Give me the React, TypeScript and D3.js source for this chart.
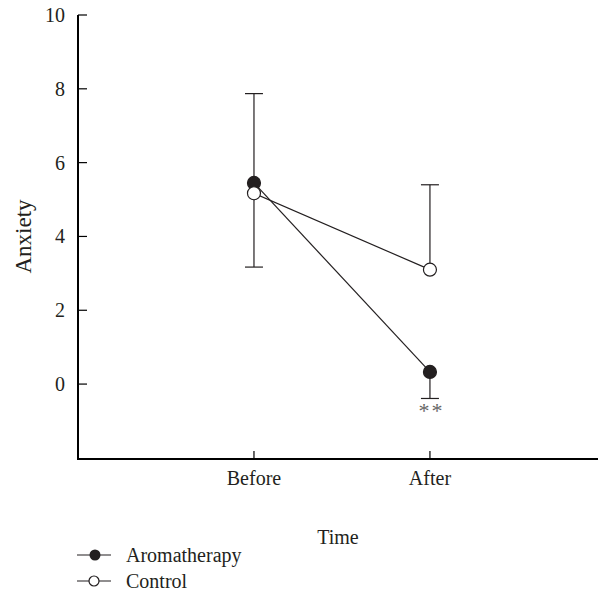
import React from "react";
import * as d3 from "d3";

const categories = ["Before", "After"];
const catPos = [1, 2];
const aromaMean = [5.45, 0.33];
const aromaErr = [2.42, -0.72];
const controlMean = [5.17, 3.1];
const controlErr = [-2.0, 2.3];
const yTicks = [0, 2, 4, 6, 8, 10];

const W = 607, H = 595;
const FONT = "'Liberation Serif', 'Times New Roman', serif";
const INK = "#231f20";

export default function App() {
  const x = d3.scaleLinear().domain([0, 2.955]).range([78, 598]);
  const y = d3.scaleLinear().domain([-2.03, 10]).range([459, 15]);
  const line = d3.line<[number, number]>().x(d => x(d[0])).y(d => y(d[1]));
  const aromaPts: [number, number][] = catPos.map((c, i) => [c, aromaMean[i]]);
  const ctrlPts: [number, number][] = catPos.map((c, i) => [c, controlMean[i]]);
  const r = 6.5;
  const cap = 9;

  const errBar = (c: number, m: number, e: number, key: string) => (
    <g key={key} stroke={INK} strokeWidth={1.2}>
      <line x1={x(c)} x2={x(c)} y1={y(m)} y2={y(m + e)} />
      <line x1={x(c) - cap} x2={x(c) + cap} y1={y(m + e)} y2={y(m + e)} />
    </g>
  );

  return (
    <svg width={W} height={H} style={{ position: "absolute", left: 0, top: 0 }} fontFamily={FONT}>
      <rect width={W} height={H} fill="#fff" />
      {catPos.map((c, i) => errBar(c, aromaMean[i], aromaErr[i], "a" + i))}
      {catPos.map((c, i) => errBar(c, controlMean[i], controlErr[i], "c" + i))}
      <path d={line(aromaPts) || ""} fill="none" stroke={INK} strokeWidth={1.2} />
      <path d={line(ctrlPts) || ""} fill="none" stroke={INK} strokeWidth={1.2} />
      {aromaPts.map((p, i) => (
        <circle key={"am" + i} cx={x(p[0])} cy={y(p[1])} r={r} fill={INK} stroke={INK} strokeWidth={1.2} />
      ))}
      {ctrlPts.map((p, i) => (
        <circle key={"cm" + i} cx={x(p[0])} cy={y(p[1])} r={r} fill="#fff" stroke={INK} strokeWidth={1.2} />
      ))}
      <text x={x(2) + 1.5} y={y(aromaMean[1] + aromaErr[1]) + 20} textAnchor="middle" fontSize={22} letterSpacing={2} fill="#666">**</text>
      <line x1={78} x2={78} y1={y(10)} y2={459} stroke="#000" strokeWidth={2} />
      <line x1={77} x2={598} y1={459} y2={459} stroke="#000" strokeWidth={2} />
      {yTicks.map(t => (
        <g key={"yt" + t}>
          <line x1={78} x2={87} y1={y(t)} y2={y(t)} stroke="#000" strokeWidth={1.2} />
          <text x={65} y={y(t)} dy="0.35em" textAnchor="end" fontSize={20} fill={INK}>{t}</text>
        </g>
      ))}
      {categories.map((c, i) => (
        <g key={"xt" + c}>
          <line x1={x(catPos[i])} x2={x(catPos[i])} y1={459} y2={451} stroke="#000" strokeWidth={1.2} />
          <text x={x(catPos[i])} y={485} textAnchor="middle" fontSize={20} fill={INK}>{c}</text>
        </g>
      ))}
      <text transform={`translate(31,${y(4)}) rotate(-90)`} textAnchor="middle" fontSize={23} fill={INK}>Anxiety</text>
      <text x={338} y={544} textAnchor="middle" fontSize={20} fill={INK}>Time</text>
      <g>
        <line x1={77} x2={111} y1={555} y2={555} stroke={INK} strokeWidth={1.2} />
        <circle cx={95} cy={555} r={5.5} fill={INK} />
        <text x={126} y={562} fontSize={20} fill={INK}>Aromatherapy</text>
        <line x1={77} x2={111} y1={581} y2={581} stroke={INK} strokeWidth={1.2} />
        <circle cx={94} cy={581} r={5} fill="#fff" stroke={INK} strokeWidth={1.2} />
        <text x={126} y={588} fontSize={20} fill={INK}>Control</text>
      </g>
    </svg>
  );
}
